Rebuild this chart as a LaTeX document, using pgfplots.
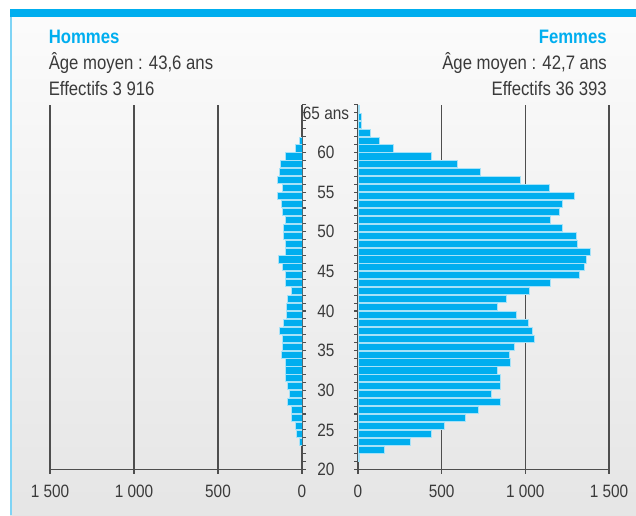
\documentclass[border=0pt]{standalone}
\usepackage{fontspec}
\setmainfont{Liberation Sans}[FakeStretch=0.86]
\usepackage{pgfplots}
\pgfplotsset{compat=1.18}
\definecolor{cyanb}{HTML}{00AEEF}
\definecolor{cyanl}{HTML}{7FD4F5}
\definecolor{cyane}{HTML}{A6E2F8}
\definecolor{gridc}{HTML}{4E4E4E}
\definecolor{txt}{HTML}{3A3A3A}
\newcommand{\titlesize}{\fontsize{14.6pt}{17pt}\selectfont}
\newcommand{\ticksize}{\fontsize{13.4pt}{15pt}\selectfont}
\pgfplotsset{pyr/.style={
  scale only axis, height=273.4pt, ymin=20, ymax=66,
  xbar, bar width=0.9,
  axis x line*=bottom,
  xmajorgrids, grid style={gridc, line width=0.9pt},
  axis line style={gridc, line width=0.9pt},
  tick style={gridc, line width=0.8pt},
  major tick length=3pt, minor tick length=3pt,
  tick align=outside,
  xticklabel style={font=\ticksize, text=txt, yshift=-5pt},
}}
\begin{document}
\begin{tikzpicture}[x=0.75pt,y=0.75pt]
\useasboundingbox (0,0) rectangle (636,515);
\fill[white] (0,0) rectangle (636,515);
\shade[top color=white!97!gray, bottom color=black!10] (10,0) rectangle (636,498);
\fill[cyanb] (10,498) rectangle (636,506);
\fill[cyanl] (10,0) rectangle (11.5,498);
% titles
\node[anchor=base west, inner sep=0pt, text=cyanb, font=\titlesize\bfseries] at (48.5,471.5) {Hommes};
\node[anchor=base west, inner sep=0pt, text=txt, font=\titlesize] at (48.5,445) {Âge moyen : 43,6 ans};
\node[anchor=base west, inner sep=0pt, text=txt, font=\titlesize] at (48.5,419.3) {Effectifs 3 916};
\node[anchor=base east, inner sep=0pt, text=cyanb, font=\titlesize\bfseries] at (607,471.5) {Femmes};
\node[anchor=base east, inner sep=0pt, text=txt, font=\titlesize] at (607,445) {Âge moyen : 42,7 ans};
\node[anchor=base east, inner sep=0pt, text=txt, font=\titlesize] at (607,419.3) {Effectifs 36 393};
% Hommes
\begin{axis}[pyr, at={(37.5pt,34.125pt)}, anchor=south west, width=189pt,
  xmin=-1500, xmax=0,
  axis y line*=right,
  xtick={-1500,-1000,-500,0}, xticklabels={1~500,1~000,500,0},
  ytick={20,...,66}, yticklabels={}]
\addplot[fill=cyanb, draw=cyane, line width=0.75pt] coordinates {
(-12,23.5) (-32,24.5) (-40,25.5) (-61,26.5) (-61,27.5) (-89,28.5) (-75,29.5)
(-89,30.5) (-101,31.5) (-97,32.5) (-97,33.5) (-125,34.5) (-117,35.5) (-117,36.5)
(-131,37.5) (-109,38.5) (-95,39.5) (-95,40.5) (-87,41.5) (-65,42.5) (-97,43.5)
(-101,44.5) (-117,45.5) (-137,46.5) (-101,47.5) (-101,48.5) (-109,49.5) (-109,50.5)
(-97,51.5) (-117,52.5) (-125,53.5) (-143,54.5) (-117,55.5) (-145,56.5) (-135,57.5)
(-129,58.5) (-101,59.5) (-36,60.5) (-16,61.5)
};
\end{axis}
% Femmes
\begin{axis}[pyr, at={(268.5pt,34.125pt)}, anchor=south west, width=188.25pt,
  xmin=0, xmax=1500,
  axis y line*=left,
  xtick={0,500,1000,1500}, xticklabels={0,500,1~000,1~500},
  ytick={20,25,...,65}, minor ytick={21,...,66},
  yticklabels={20,25,30,35,40,45,50,55,60,65 ans},
  yticklabel style={anchor=center, xshift=-21pt, font=\ticksize, text=txt}]
\addplot[fill=cyanb, draw=cyane, line width=0.75pt] coordinates {
(8,21.5) (158,22.5) (314,23.5) (442,24.5) (514,25.5) (640,26.5) (718,27.5)
(854,28.5) (796,29.5) (854,30.5) (854,31.5) (832,32.5) (910,33.5) (904,34.5)
(938,35.5) (1052,36.5) (1044,37.5) (1016,38.5) (950,39.5) (832,40.5) (888,41.5)
(1024,42.5) (1150,43.5) (1322,44.5) (1356,45.5) (1364,46.5) (1390,47.5) (1312,48.5)
(1306,49.5) (1222,50.5) (1148,51.5) (1206,52.5) (1222,53.5) (1292,54.5) (1144,55.5)
(972,56.5) (730,57.5) (596,58.5) (440,59.5) (214,60.5) (128,61.5) (72,62.5)
(22,63.5) (22,64.5) (10,65.5)
};
\end{axis}
\end{tikzpicture}
\end{document}
